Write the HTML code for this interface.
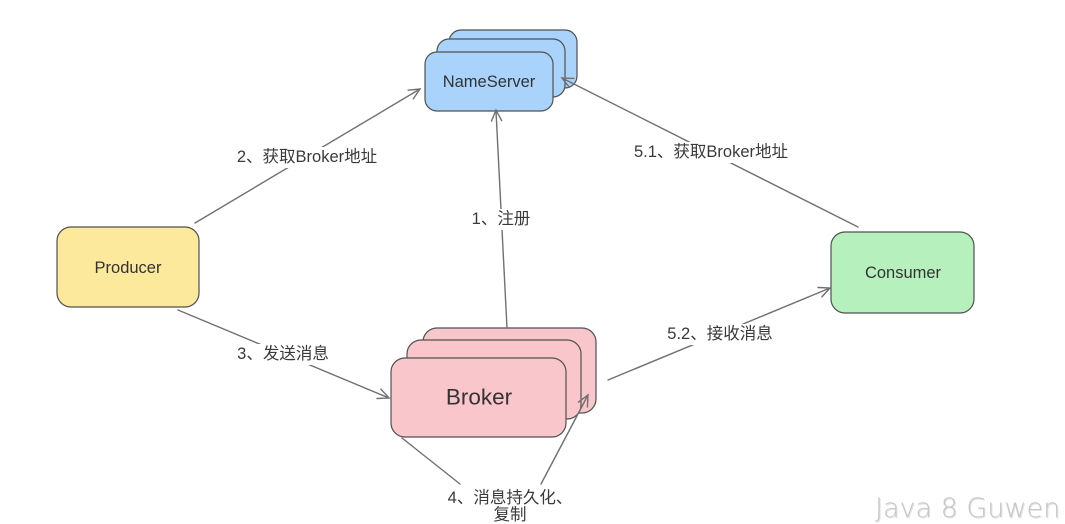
<!DOCTYPE html>
<html>
<head>
<meta charset="utf-8">
<style>
  html, body { margin:0; padding:0; background:#ffffff; }
  body { width:1065px; height:524px; overflow:hidden; }
  svg { display:block; }
  .lbl { font-family:"Liberation Sans","Noto Sans CJK SC",sans-serif; font-size:16.5px; fill:#3a3a3a; }
  .node { font-family:"Liberation Sans","Noto Sans CJK SC",sans-serif; fill:#333; }
  .wm { font-family:"DejaVu Sans ExtraLight","DejaVu Sans","Liberation Sans",sans-serif; font-weight:200; font-size:27px; }
</style>
</head>
<body>
<svg width="1065" height="524" viewBox="0 0 1065 524" xmlns="http://www.w3.org/2000/svg">
  <!-- NameServer -->
  <g stroke="#505050" stroke-width="1.2" fill="#a9d3fb">
    <rect x="449" y="30" width="128" height="58" rx="12"/>
    <rect x="437" y="39" width="128" height="58" rx="12"/>
    <rect x="425" y="52" width="128" height="59" rx="12"/>
  </g>
  <text class="node" x="489" y="82" font-size="16.5" text-anchor="middle" dominant-baseline="central">NameServer</text>

  <!-- Broker -->
  <g stroke="#505050" stroke-width="1.2" fill="#f9c7cb">
    <rect x="423" y="328" width="173" height="85" rx="14"/>
    <rect x="407" y="340" width="174" height="79" rx="14"/>
    <rect x="391" y="358" width="175" height="79" rx="14"/>
  </g>
  <text class="node" x="479" y="397" font-size="22.5" text-anchor="middle" dominant-baseline="central">Broker</text>

  <!-- Producer -->
  <rect x="57" y="227" width="142" height="80" rx="14" fill="#fde99b" stroke="#505050" stroke-width="1.2"/>
  <text class="node" x="128" y="268" font-size="16.5" text-anchor="middle" dominant-baseline="central">Producer</text>

  <!-- Consumer -->
  <rect x="831" y="232" width="143" height="81" rx="14" fill="#b6f1bd" stroke="#505050" stroke-width="1.2"/>
  <text class="node" x="903" y="273" font-size="16.5" text-anchor="middle" dominant-baseline="central">Consumer</text>

  <!-- connectors on top of nodes -->
  <g stroke="#707070" stroke-width="1.4" fill="none" stroke-linecap="round">
    <line x1="195" y1="223" x2="420" y2="89"/>
    <polyline points="408.1,90.2 420,89 413.3,98.9"/>
    <line x1="858" y1="227" x2="562" y2="78"/>
    <polyline points="569.4,87.4 562,78 574,78.4"/>
    <line x1="507" y1="328" x2="496" y2="111"/>
    <polyline points="491.5,121.1 496,110 501.6,120.6"/>
    <line x1="178" y1="310" x2="389" y2="398"/>
    <polyline points="380.9,389.1 389,398 377,398.5"/>
    <line x1="608" y1="380" x2="830" y2="288"/>
    <polyline points="818,287.5 830,288 821.9,296.9"/>
    <line x1="402" y1="438" x2="460" y2="484"/>
    <line x1="541" y1="484" x2="588" y2="395"/>
    <polyline points="578.4,402.2 588,395 587.4,407"/>
  </g>

  <!-- Labels with white backgrounds -->
  <rect x="229" y="147" width="156" height="21" fill="#fff"/>
  <text class="lbl" x="307" y="157" text-anchor="middle" dominant-baseline="central">2、获取Broker地址</text>

  <rect x="626" y="142" width="170" height="21" fill="#fff"/>
  <text class="lbl" x="711" y="152" text-anchor="middle" dominant-baseline="central">5.1、获取Broker地址</text>

  <rect x="467" y="209" width="68" height="21" fill="#fff"/>
  <text class="lbl" x="501" y="219" text-anchor="middle" dominant-baseline="central">1、注册</text>

  <rect x="231" y="344" width="104" height="21" fill="#fff"/>
  <text class="lbl" x="283" y="354" text-anchor="middle" dominant-baseline="central">3、发送消息</text>

  <rect x="660" y="324" width="119" height="21" fill="#fff"/>
  <text class="lbl" x="720" y="334" text-anchor="middle" dominant-baseline="central">5.2、接收消息</text>

  <text class="lbl" x="510" y="498" text-anchor="middle" dominant-baseline="central">4、消息持久化、</text>
  <text class="lbl" x="510" y="515" text-anchor="middle" dominant-baseline="central">复制</text>

  <!-- watermark -->
  <text class="wm" x="876" y="518" fill="#e4e4e4">Java 8 Guwen</text>
  <text class="wm" x="875" y="517" fill="#c6c6c6">Java 8 Guwen</text>
</svg>
</body>
</html>
